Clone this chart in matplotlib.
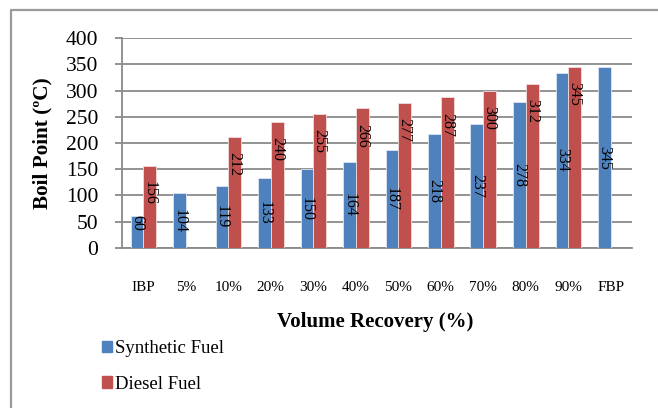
import matplotlib.pyplot as plt
from matplotlib.patches import Patch
from matplotlib.lines import Line2D
import numpy as np

plt.rcParams['font.family'] = ['Liberation Serif', 'DejaVu Serif']

categories = ['IBP', '5%', '10%', '20%', '30%', '40%', '50%', '60%', '70%', '80%', '90%', 'FBP']
synthetic = [60, 104, 119, 133, 150, 164, 187, 218, 237, 278, 334, 345]
diesel = [156, None, 212, 240, 255, 266, 277, 287, 300, 312, 345, None]

blue = '#4F81BD'
red = '#C0504D'
grid_col = '#8a8a8a'

fig = plt.figure(figsize=(6.58, 4.08), dpi=100)
# outer frame: only left and top edges are visible in the crop
frame_x = 11 / 658
frame_y = 1 - 10 / 408
fig.add_artist(Line2D([frame_x, frame_x, 1.0], [0, frame_y, frame_y], transform=fig.transFigure,
                      color='#9a9a9a', linewidth=1.6))

ax = fig.add_axes([122 / 658, 1 - 248 / 408, 510 / 658, 210 / 408])
x = np.arange(len(categories))
w = 0.3

ax.bar(x - w / 2, synthetic, w, color=blue, edgecolor='#dce6f2', linewidth=0.6, zorder=3)
d_x = [xi + w / 2 for xi, v in zip(x, diesel) if v is not None]
d_v = [v for v in diesel if v is not None]
ax.bar(d_x, d_v, w, color=red, edgecolor='#f2dcdb', linewidth=0.6, zorder=3)

for xi, v in zip(x, synthetic):
    ax.text(xi - w / 2, max(v / 2, 48), str(v), rotation=-90, ha='center', va='center',
            fontsize=11.5, zorder=4)
for xi, v in zip(d_x, d_v):
    ax.annotate(str(v), (xi, v), xytext=(0, -11), textcoords='offset points',
                rotation=-90, ha='center', va='top', fontsize=11.5, zorder=4)

ax.set_xlim(-0.5, len(categories) - 0.5)
ax.set_ylim(0, 400)
ax.set_yticks(np.arange(0, 401, 50))
ax.yaxis.grid(True, color=grid_col, linewidth=1.3, zorder=0)
ax.set_axisbelow(True)
ax.set_xticks(x)
ax.set_xticklabels(categories, fontsize=11)
ax.tick_params(axis='x', length=0, pad=24)
ax.tick_params(axis='y', length=5, color=grid_col, width=1.3, labelsize=15.5, pad=12)
for s in ['top', 'right']:
    ax.spines[s].set_visible(False)
ax.spines['left'].set_color(grid_col)
ax.spines['left'].set_linewidth(1.3)
ax.spines['bottom'].set_color(grid_col)
ax.spines['bottom'].set_linewidth(1.3)

ax.set_ylabel('Boil Point (ºC)', fontsize=15.3, fontweight='bold')
ax.yaxis.set_label_coords(-(122 - 52) / 510, 0.5)
fig.text(375 / 658, 1 - 322 / 408, 'Volume Recovery (%)', fontsize=15, fontweight='bold',
         ha='center', va='center')

handles = [Patch(color=blue), Patch(color=red)]
fig.legend(handles, ['Synthetic Fuel', 'Diesel Fuel'], loc='upper left',
           bbox_to_anchor=(102 / 658, 1 - 340 / 408), frameon=False, fontsize=13.5,
           borderpad=0, borderaxespad=0,
           handlelength=0.55, handleheight=0.55, handletextpad=0.15, labelspacing=1.0)

fig.savefig('out.png', dpi=100)
